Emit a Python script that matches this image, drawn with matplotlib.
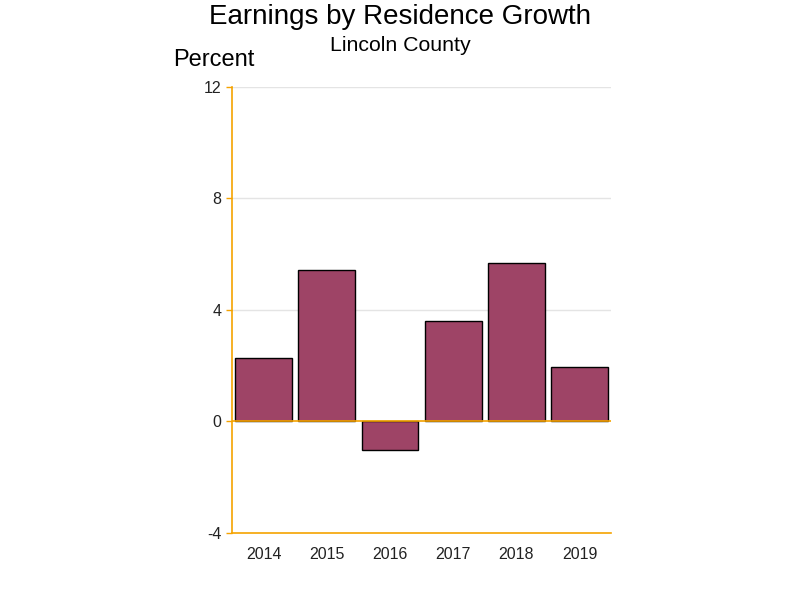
import numpy as np
import matplotlib.pyplot as plt

plt.rcParams['font.family'] = ['Liberation Sans', 'DejaVu Sans']
plt.rcParams['axes.unicode_minus'] = False

years = ['2014', '2015', '2016', '2017', '2018', '2019']
growth = [2.26, 5.42, -1.02, 3.62, 5.67, 1.97]

bar_color = '#9e4466'
axis_color = '#f5a300'

fig = plt.figure(figsize=(8, 6), dpi=100)
ax = fig.add_axes([0.29, 0.1117, 0.474, 0.7433])

x = np.arange(len(years))
ax.bar(x, growth, width=0.9, color=bar_color, edgecolor='black', linewidth=1, zorder=3)

ax.set_xlim(-0.5, len(years) - 0.5)
ax.set_ylim(-4, 12)
ax.set_yticks([-4, 0, 4, 8, 12])
ax.set_xticks(x)
ax.set_xticklabels(years)

for y in [4, 8, 12]:
    ax.axhline(y, color='#e4e4e4', linewidth=1, zorder=1)
ax.axhline(0, color=axis_color, linewidth=1.2, zorder=4)

for side in ['top', 'right']:
    ax.spines[side].set_visible(False)
ax.spines['left'].set_color(axis_color)
ax.spines['bottom'].set_color(axis_color)
ax.spines['left'].set_linewidth(1.2)
ax.spines['bottom'].set_linewidth(1.2)

ax.tick_params(axis='y', colors=axis_color, labelcolor='#222222', labelsize=11.5, length=4, width=1)
ax.tick_params(axis='x', length=0, labelsize=11.5, labelcolor='#222222', pad=10)

fig.text(0.5, 0.972, 'Earnings by Residence Growth', ha='center', va='center', fontsize=20)
fig.text(0.5, 0.924, 'Lincoln County', ha='center', va='center', fontsize=15.3)
fig.text(0.267, 0.9, 'Percent', ha='center', va='center', fontsize=17)

fig.savefig('out.png', dpi=100)
